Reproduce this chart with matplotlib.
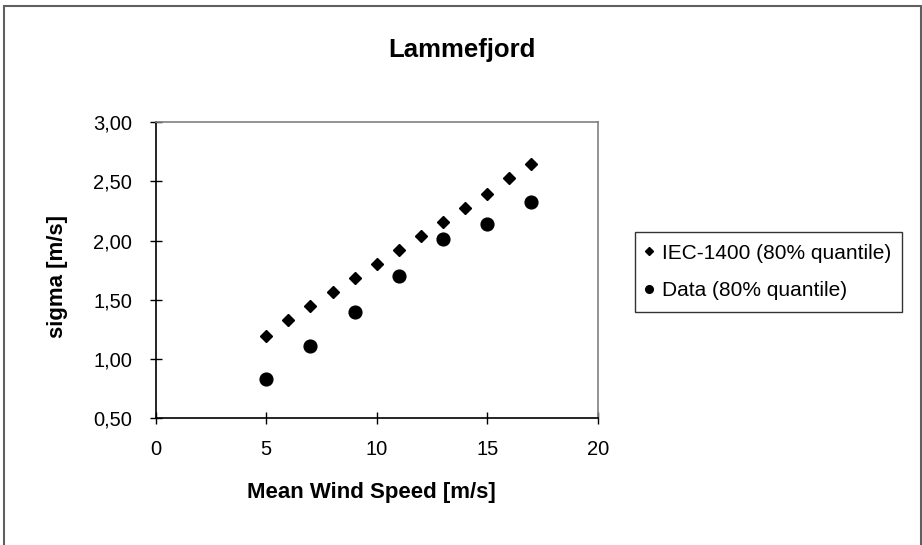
import matplotlib
matplotlib.use("Agg")
import matplotlib.pyplot as plt
from matplotlib.patches import Rectangle

plt.rcParams['font.family'] = ['Liberation Sans', 'DejaVu Sans']

# data
iec_speed = [5, 6, 7, 8, 9, 10, 11, 12, 13, 14, 15, 16, 17]
iec_sigma = [1.19, 1.33, 1.45, 1.565, 1.68, 1.80, 1.92, 2.04, 2.155, 2.275, 2.395, 2.525, 2.645]
data_speed = [5, 7, 9, 11, 13, 15, 17]
data_sigma = [0.83, 1.11, 1.40, 1.70, 2.01, 2.14, 2.33]

x_ticks = [0, 5, 10, 15, 20]
y_ticks = [0.5, 1.0, 1.5, 2.0, 2.5, 3.0]
y_tick_labels = ['0,50', '1,00', '1,50', '2,00', '2,50', '3,00']

W, H = 922, 545
fig = plt.figure(figsize=(W / 100, H / 100), dpi=100)
ax = fig.add_axes([155.7 / W, 1 - 418 / H, 442 / W, 295.7 / H])

ax.plot(iec_speed, iec_sigma, linestyle='none', marker='D', ms=6.3,
        color='black', label='IEC-1400 (80% quantile)')
ax.plot(data_speed, data_sigma, linestyle='none', marker='o', ms=9.2,
        color='black', label='Data (80% quantile)')

ax.set_xlim(0, 20)
ax.set_ylim(0.5, 3.0)
ax.set_xticks(x_ticks)
ax.set_yticks(y_ticks)
ax.set_yticklabels(y_tick_labels)

ax.tick_params(axis='both', direction='inout', length=8, width=1, labelsize=14.5, color='black')
ax.tick_params(axis='y', pad=13)
ax.tick_params(axis='x', pad=12)

for s in ['left', 'bottom']:
    ax.spines[s].set_color('black')
    ax.spines[s].set_linewidth(1.2)
for s in ['top', 'right']:
    ax.spines[s].set_color('#808080')
    ax.spines[s].set_linewidth(1.2)

ax.set_xlabel('Mean Wind Speed [m/s]', fontsize=16, fontweight='bold')
ax.xaxis.set_label_coords(0.489, (418 - 498) / 295.7)
ax.xaxis.label.set_va('baseline')
ax.set_ylabel('sigma [m/s]', fontsize=16, fontweight='bold')
ax.yaxis.set_label_coords((57 - 155.7) / 442, (418 - 276) / 295.7)
ax.yaxis.label.set_va('center')

fig.text(462 / W, 1 - 56.7 / H, 'Lammefjord', fontsize=18.5, fontweight='bold',
         ha='center', va='baseline')

leg = fig.legend(loc='upper left', bbox_to_anchor=(635 / W, 1 - 232.3 / H),
                 fontsize=15, frameon=True, fancybox=False, edgecolor='black',
                 borderaxespad=0, handlelength=0.25, handletextpad=0.48,
                 labelspacing=0.88, borderpad=0.55, markerscale=0.6)
leg.get_frame().set_linewidth(1.0)

# outer chart frame
fig.add_artist(Rectangle((3.5 / W, -0.05), (920.5 - 3.5) / W, 1.05 - 5.7 / H,
                         transform=fig.transFigure, fill=False,
                         edgecolor='#606060', linewidth=1.5, clip_on=False))

fig.savefig('out.png', dpi=100)
